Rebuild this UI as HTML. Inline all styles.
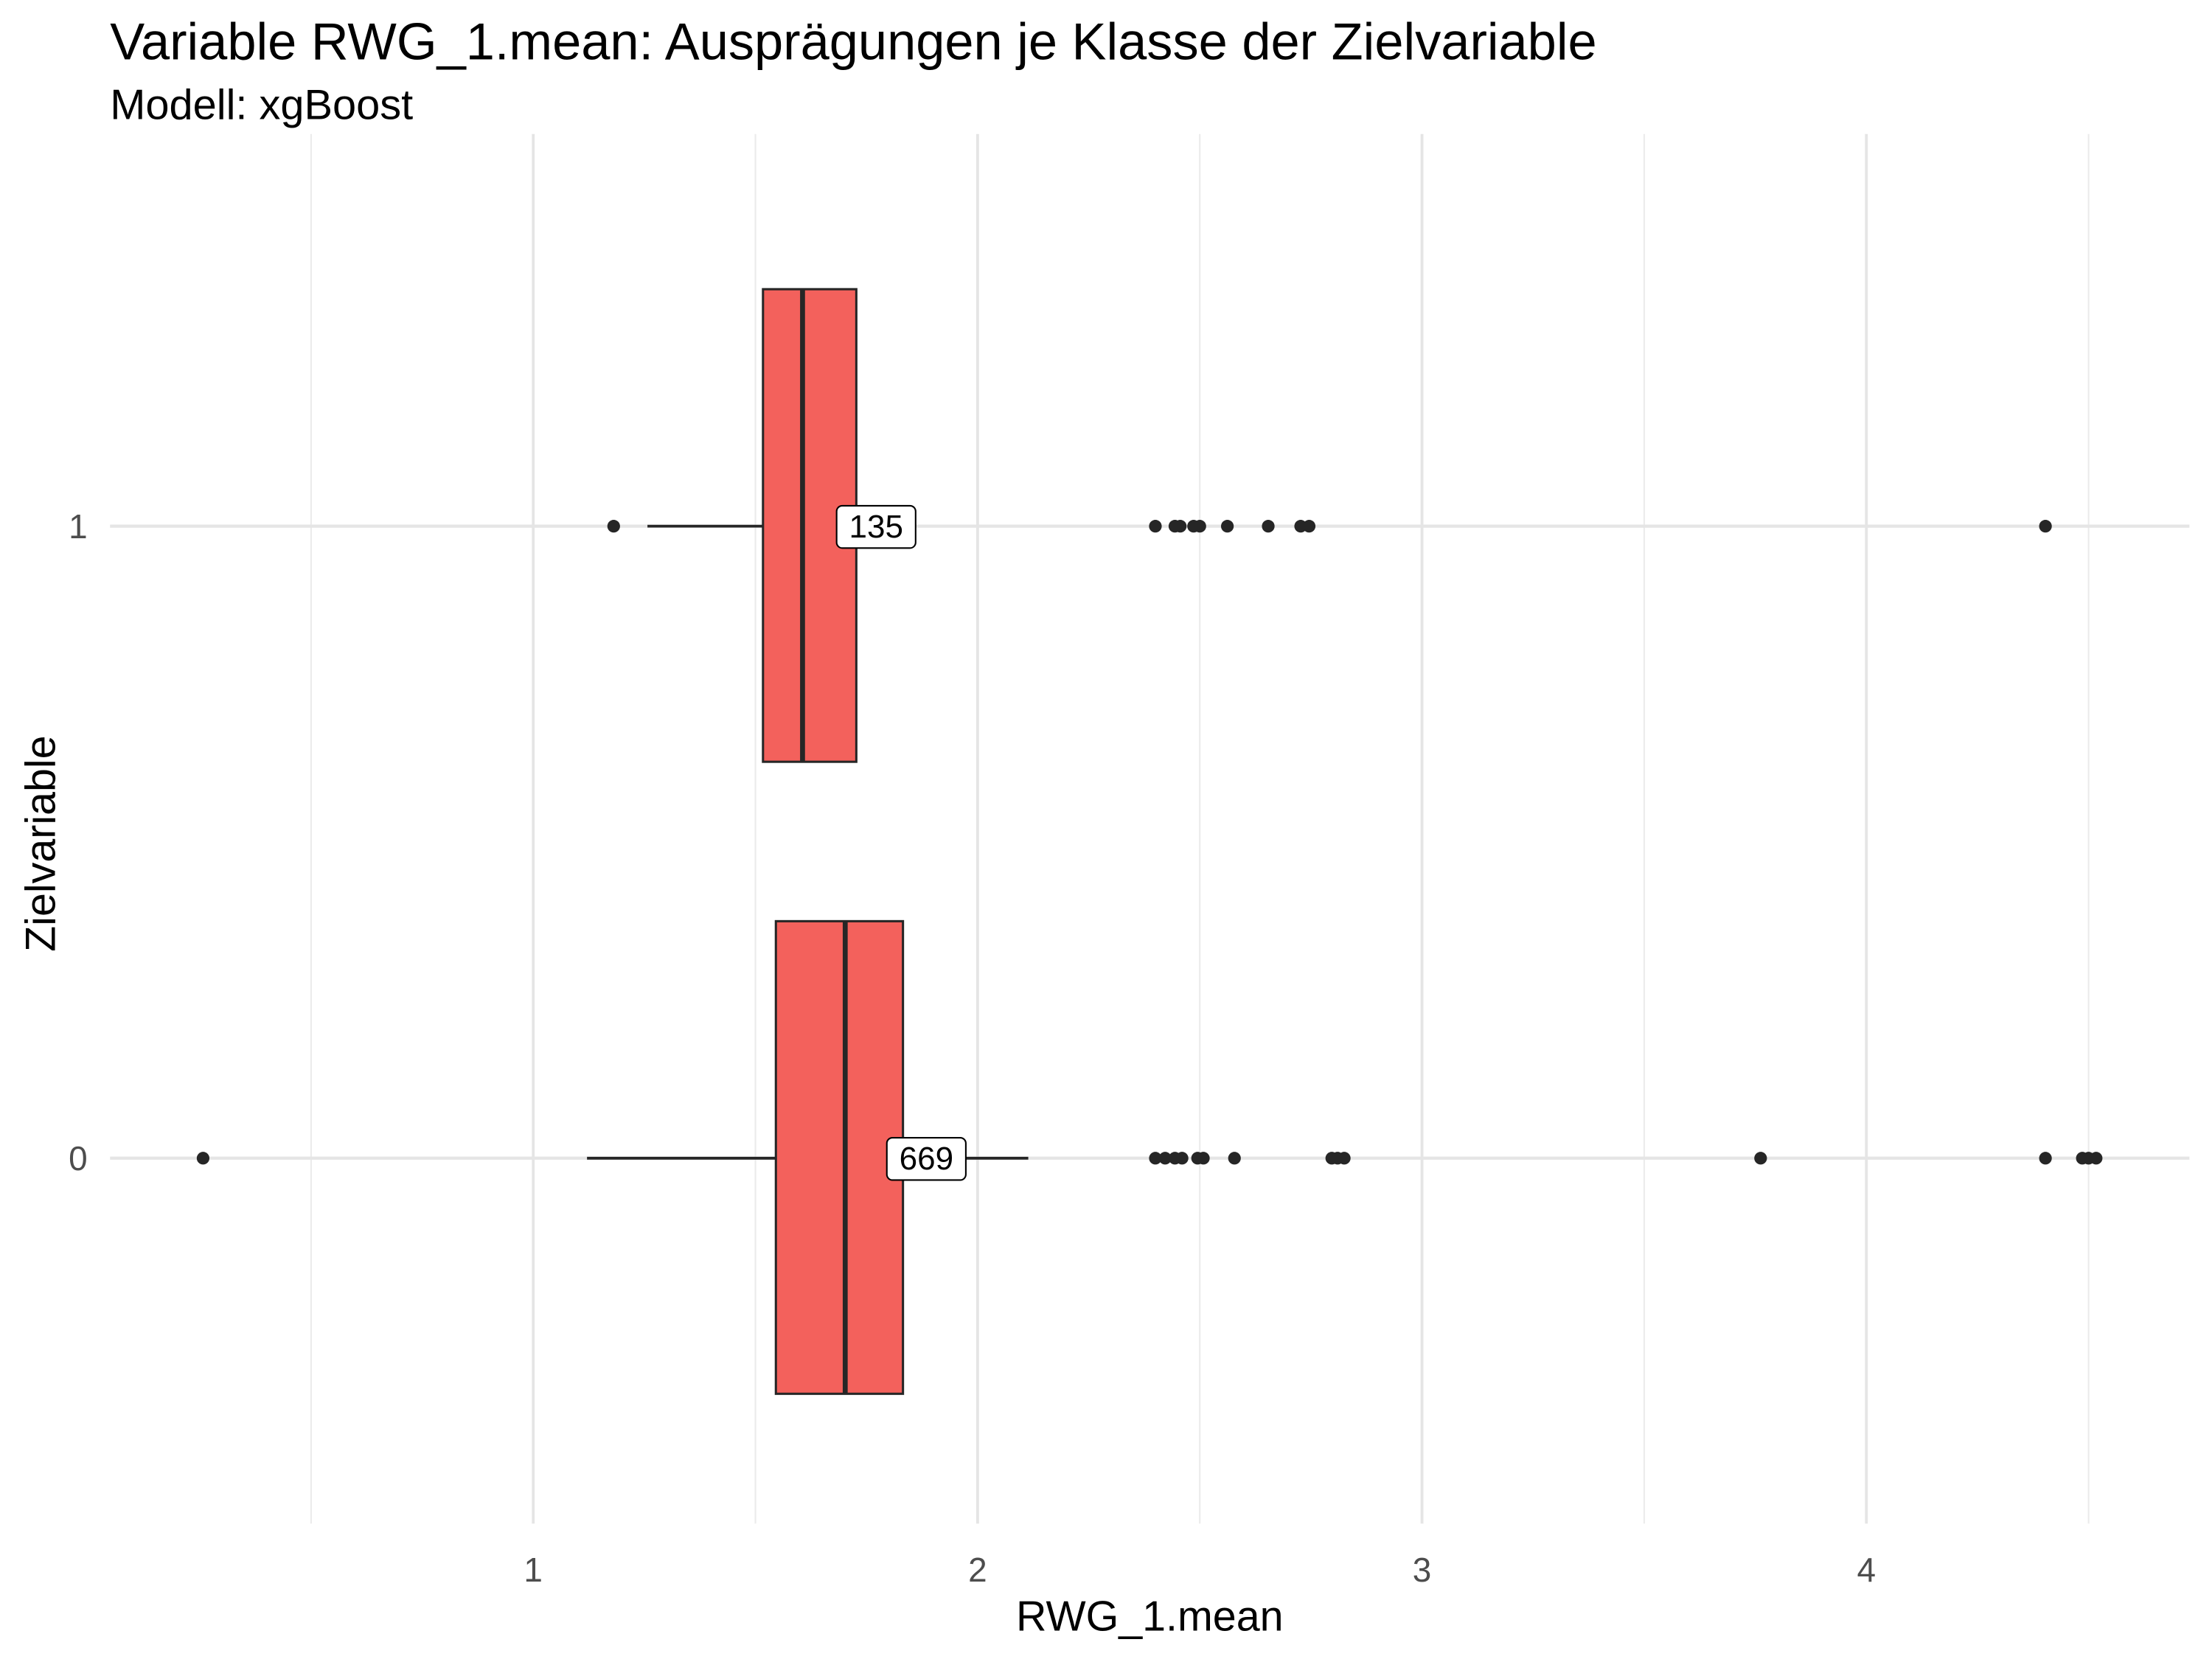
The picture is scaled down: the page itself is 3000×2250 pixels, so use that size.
<!DOCTYPE html>
<html><head><meta charset="utf-8"><style>
html,body{margin:0;padding:0;background:#fff;width:3000px;height:2250px;overflow:hidden}
svg{display:block;font-family:"Liberation Sans",Arial,sans-serif}
</style></head><body>
<svg id="chart" width="3000" height="2250" viewBox="0 0 1568 1176" xmlns="http://www.w3.org/2000/svg">
<text x="78" y="42" font-size="36.8" fill="#000">Variable RWG_1.mean: Ausprägungen je Klasse der Zielvariable</text>
<text x="78" y="84.5" font-size="30.2" fill="#000">Modell: xgBoost</text>
<g id="grid"></g>
<g id="marks"></g>
<g id="axes"></g>
<text x="815" y="1156" font-size="30" text-anchor="middle" fill="#000">RWG_1.mean</text>
<text transform="translate(39,598) rotate(-90)" font-size="30" text-anchor="middle" fill="#000">Zielvariable</text>
</svg>
<script>
const categories = ["0", "1"];
const xTicks = [1, 2, 3, 4];
const xMinor = [0.5, 1.5, 2.5, 3.5, 4.5];
const q1 = [1.546, 1.517];
const medians = [1.702, 1.606];
const q3 = [1.832, 1.727];
const whiskerLow = [1.121, 1.257];
const whiskerHigh = [2.114, 1.727];
const counts = ["669", "135"];
const labelX = [1.883, 1.77];
const outliers0 = [0.257, 2.40, 2.422, 2.444, 2.46, 2.495, 2.508, 2.578, 2.797, 2.81, 2.825, 3.762, 4.403, 4.486, 4.5, 4.517];
const outliers1 = [1.181, 2.40, 2.444, 2.456, 2.486, 2.50, 2.562, 2.654, 2.727, 2.746, 4.403];
const outliers = [outliers0, outliers1];

const NS = "http://www.w3.org/2000/svg";
const X0 = 63, UNIT = 315, PL = 78, PR = 1552, PT = 95, PB = 1080;
const xs = v => X0 + v * UNIT;
const ys = i => 821 - i * 448;
const BOXH = 335;
function mk(tag, attrs, parent) {
  const e = document.createElementNS(NS, tag);
  for (const k in attrs) e.setAttribute(k, attrs[k]);
  parent.appendChild(e);
  return e;
}
const grid = document.getElementById('grid');
const marks = document.getElementById('marks');
const axes = document.getElementById('axes');
xMinor.forEach(v => {
  const l = mk('line', {x1: xs(v), x2: xs(v), y1: PT, y2: PB, stroke: '#ebebeb', 'stroke-width': 1.1}, grid);
  
  
});
xTicks.forEach(v => {
  const l = mk('line', {x1: xs(v), x2: xs(v), y1: PT, y2: PB, stroke: '#e5e5e5', 'stroke-width': 2}, grid);
  
  
  const t = mk('text', {x: xs(v), y: 1121, 'font-size': 24, 'text-anchor': 'middle', fill: '#4d4d4d'}, axes);
  t.textContent = String(v);
  
  
});
categories.forEach((c, i) => {
  const y = ys(i);
  const l = mk('line', {x1: PL, x2: PR, y1: y, y2: y, stroke: '#e5e5e5', 'stroke-width': 2.2}, grid);
  
  
  const t = mk('text', {x: 62, y: y + 8.5, 'font-size': 24, 'text-anchor': 'end', fill: '#4d4d4d'}, axes);
  t.textContent = c;
  
  

  const g = mk('g', {}, marks);
  
  
  const wl = mk('line', {x1: xs(whiskerLow[i]), x2: xs(q1[i]), y1: y, y2: y, stroke: '#262626', 'stroke-width': 2}, g);
  
  
  const wh = mk('line', {x1: xs(q3[i]), x2: xs(whiskerHigh[i]), y1: y, y2: y, stroke: '#262626', 'stroke-width': 2}, g);
  
  
  const r = mk('rect', {x: xs(q1[i]), y: y - 168, width: xs(q3[i]) - xs(q1[i]), height: BOXH, fill: '#f3615c', stroke: '#262626', 'stroke-width': 1.6}, g);
  
  
  const m = mk('line', {x1: xs(medians[i]), x2: xs(medians[i]), y1: y - 168, y2: y + 167, stroke: '#262626', 'stroke-width': 3.5}, g);
  
  
  outliers[i].forEach(v => {
    const p = mk('circle', {cx: xs(v), cy: y, r: 4.5, fill: '#262626'}, g);
    
    
  });
  const lx = xs(labelX[i]);
  const lb = mk('rect', {x: lx - 27.5, y: y - 14.5, width: 56, height: 30, rx: 4, fill: '#fff', stroke: '#000', 'stroke-width': 1.1}, g);
  
  
  const lt = mk('text', {x: lx + 0.5, y: y + 8, 'font-size': 23, 'text-anchor': 'middle', fill: '#000'}, g);
  lt.textContent = counts[i];
  
  
});
</script>
</body></html>
